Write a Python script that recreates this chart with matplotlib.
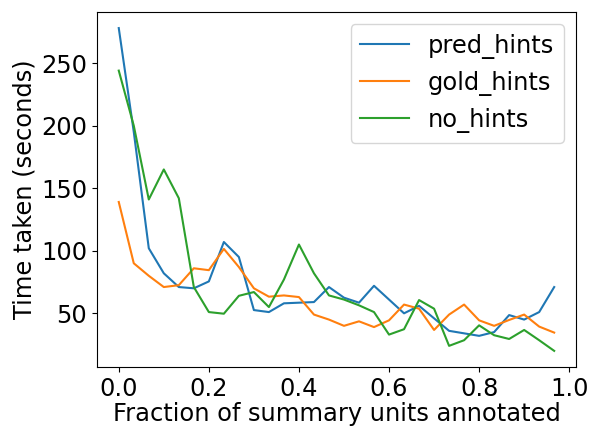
import numpy as np
import matplotlib
matplotlib.use("Agg")
import matplotlib.pyplot as plt

fractions = np.arange(30) / 30

pred_hints = [278, 195, 102, 82, 71, 70, 75.5, 107, 95, 52.6,
              51, 58, 58.5, 59, 71, 62.5, 58.5, 72, 61, 50,
              56, 46, 36, 34, 32, 35, 48.6, 45, 51, 71]
gold_hints = [139, 90, 80, 71, 72.5, 86, 84.5, 101.5, 87, 70,
              63.3, 64.3, 63, 49, 45, 40, 43.6, 39, 44.4, 57,
              53.7, 36.7, 49, 57, 44.4, 40, 44.7, 49, 39.4, 34.6]
no_hints = [244, 200, 141, 165, 142, 71, 51, 49.7, 64, 67,
            55, 77, 105, 82, 64.3, 61, 56.4, 51, 33, 37.3,
            60.6, 53.7, 24, 28.5, 40.4, 32.5, 29.5, 36.7, 28.5, 20]

plt.rcParams['font.size'] = 17.4

fig = plt.figure(figsize=(5.95, 4.26), dpi=100)
ax = fig.add_axes([0.163, 0.1385, 0.805, 0.8335])

ax.plot(fractions, pred_hints, label='pred_hints')
ax.plot(fractions, gold_hints, label='gold_hints')
ax.plot(fractions, no_hints, label='no_hints')

ax.set_xlabel("Fraction of summary units annotated", labelpad=1)
ax.set_ylabel("Time taken (seconds)", labelpad=3)
ax.set_xticks([0.0, 0.2, 0.4, 0.6, 0.8, 1.0])
ax.legend(loc='upper right')

fig.savefig("out.png", dpi=100)
